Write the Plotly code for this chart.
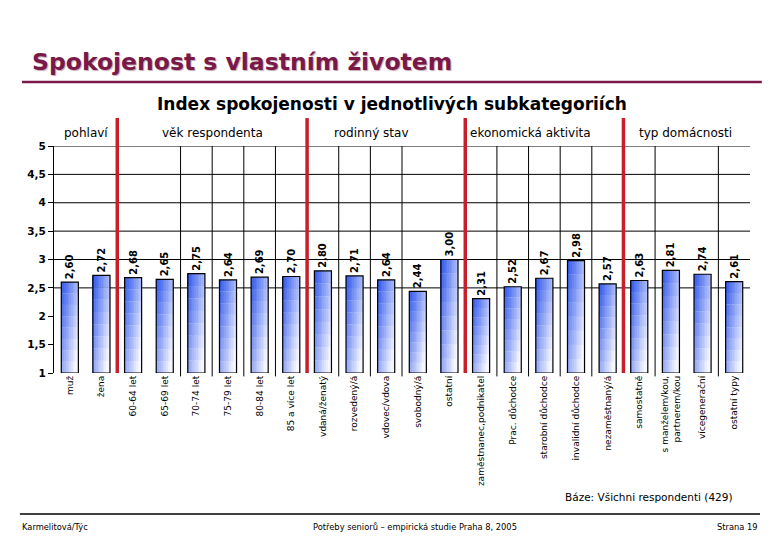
import plotly.graph_objects as go

categories = ["muž", "žena", "60-64 let", "65-69 let", "70-74 let", "75-79 let",
              "80-84 let", "85 a více let", "vdaná/ženatý", "rozvedený/á",
              "vdovec/vdova", "svobodný/á", "ostatní", "zaměstnanec,podnikatel",
              "Prac. důchodce", "starobní důchodce", "invalidní důchodce",
              "nezaměstnaný/á", "samostatně", "s manželem/kou,<br>partnerem/kou",
              "vícegenerační", "ostatní typy"]
values = [2.60, 2.72, 2.68, 2.65, 2.75, 2.64, 2.69, 2.70, 2.80, 2.71, 2.64,
          2.44, 3.00, 2.31, 2.52, 2.67, 2.98, 2.57, 2.63, 2.81, 2.74, 2.61]
group_names = ["pohlaví", "věk respondenta", "rodinný stav",
               "ekonomická aktivita", "typ domácnosti"]
group_sizes = [2, 6, 5, 5, 4]
y_ticks = [1, 1.5, 2, 2.5, 3, 3.5, 4, 4.5, 5]

# style / layout settings
BASE = 1
BAR_W = 0.54
COLS, ROWS = 10, 8
group_label_x = [0.5, 4.5, 9.55, 14.55, 19.45]
grid_levels = [2.5, 3, 3.5, 4, 4.5, 5]
vline_after = [4, 5, 6, 7, 9, 10, 11, 14, 15, 16, 17, 19, 21]

blue = (40, 80, 235)
white = (252, 252, 255)

def mix(t):
    r = [round(blue[i] + (white[i] - blue[i]) * t) for i in range(3)]
    return f"rgb({r[0]},{r[1]},{r[2]})"

fig = go.Figure()
slice_w = BAR_W / COLS
for j in range(COLS):
    u = (j + 0.5) / COLS
    for k in range(ROWS):
        v = (k + 0.5) / ROWS  # 0 bottom, 1 top
        t = 0.6 * u + 0.5 * (1 - v)
        col = mix(min(0.97, t))
        fig.add_trace(go.Bar(
            x=categories,
            y=[(val - BASE) / ROWS for val in values],
            base=[BASE + (val - BASE) * k / ROWS for val in values],
            width=slice_w * 1.03,
            offset=-BAR_W / 2 + j * slice_w,
            marker=dict(color=col, line=dict(width=0)),
            hoverinfo="skip", showlegend=False))

labels = [f"{v:.2f}".replace(".", ",") for v in values]
fig.add_trace(go.Bar(
    x=categories,
    y=[v - BASE for v in values],
    base=[BASE] * len(values),
    width=BAR_W,
    offset=-BAR_W / 2,
    marker=dict(color="rgba(0,0,0,0)", line=dict(color="black", width=1.2)),
    text=labels, textposition="outside", textangle=-90, constraintext="none",
    textfont=dict(family="DejaVu Sans", size=10, color="black", weight="bold"),
    cliponaxis=False, showlegend=False, hoverinfo="skip"))

shapes = []
for g in grid_levels:
    shapes.append(dict(type="line", xref="paper", yref="y", x0=0, x1=1, y0=g, y1=g,
                       line=dict(color="black", width=1), layer="below"))
for k in vline_after:
    shapes.append(dict(type="line", xref="x", yref="paper", x0=k - 0.5, x1=k - 0.5,
                       y0=-0.015, y1=1, line=dict(color="black", width=1), layer="below"))
cum = 0
for s in group_sizes[:-1]:
    cum += s
    shapes.append(dict(type="line", xref="x", yref="paper", x0=cum - 0.5, x1=cum - 0.5,
                       y0=0, y1=1.123, line=dict(color="#c8202a", width=3.5)))
shapes.append(dict(type="line", xref="paper", yref="paper", x0=-0.046, x1=1.017,
                   y0=1.282, y1=1.282, line=dict(color="#7a1848", width=2.5)))
shapes.append(dict(type="line", xref="paper", yref="paper", x0=-0.049, x1=1.0144,
                   y0=-0.621, y1=-0.621, line=dict(color="black", width=1.5)))

annotations = [
    dict(text="Spokojenost s vlastním životem", xref="paper", yref="paper",
         x=-0.0345, y=1.37, xanchor="left", yanchor="middle", showarrow=False,
         font=dict(family="DejaVu Sans", size=23.5, color="#7a1848", weight="bold",
                   shadow="1px 1px 1px #c0a8b4")),
    dict(text="Index spokojenosti v jednotlivých subkategoriích", xref="paper", yref="paper",
         x=0.486, y=1.185, xanchor="center", yanchor="middle", showarrow=False,
         font=dict(family="DejaVu Sans", size=17, color="black", weight="bold")),
    dict(text="Báze: Všichni respondenti (429)", xref="paper", yref="paper",
         x=0.978, y=-0.546, xanchor="right", yanchor="middle", showarrow=False,
         font=dict(family="DejaVu Sans", size=10.5, color="black")),
    dict(text="Karmelitová/Týc", xref="paper", yref="paper",
         x=-0.049, y=-0.678, xanchor="left", yanchor="middle", showarrow=False,
         font=dict(family="DejaVu Sans", size=8.3, color="black")),
    dict(text="Potřeby seniorů – empirická studie Praha 8, 2005", xref="paper", yref="paper",
         x=0.519, y=-0.678, xanchor="center", yanchor="middle", showarrow=False,
         font=dict(family="DejaVu Sans", size=8.3, color="black")),
    dict(text="Strana 19", xref="paper", yref="paper",
         x=1.0144, y=-0.678, xanchor="right", yanchor="middle", showarrow=False,
         font=dict(family="DejaVu Sans", size=8.3, color="black")),
]
for name, gx in zip(group_names, group_label_x):
    annotations.append(dict(text=name, xref="x", yref="paper", x=gx, y=1.057,
                            xanchor="center", yanchor="middle", showarrow=False,
                            font=dict(family="DejaVu Sans", size=12, color="black")))

fig.update_layout(
    width=780, height=540,
    margin=dict(l=54, r=30, t=146, b=167),
    paper_bgcolor="white", plot_bgcolor="white",
    barmode="overlay", separators=", ",
    showlegend=False, hovermode=False,
    shapes=shapes, annotations=annotations,
    xaxis=dict(type="category", range=[-0.5, len(categories) - 0.5],
               tickangle=-90, showgrid=False, zeroline=False, showline=False,
               ticks="", tickfont=dict(family="DejaVu Sans", size=9, color="black"),
               fixedrange=True),
    yaxis=dict(range=[1, 5], tickvals=y_ticks, showgrid=False, zeroline=False,
               showline=True, linecolor="black", linewidth=1,
               ticks="outside", ticklen=5, tickcolor="black",
               tickfont=dict(family="DejaVu Sans", size=10.5, color="black", weight="bold"),
               fixedrange=True),
)

fig.write_html("out.html", config={"displayModeBar": False},
               post_script="document.body.style.margin='0';document.body.style.overflow='hidden';")
